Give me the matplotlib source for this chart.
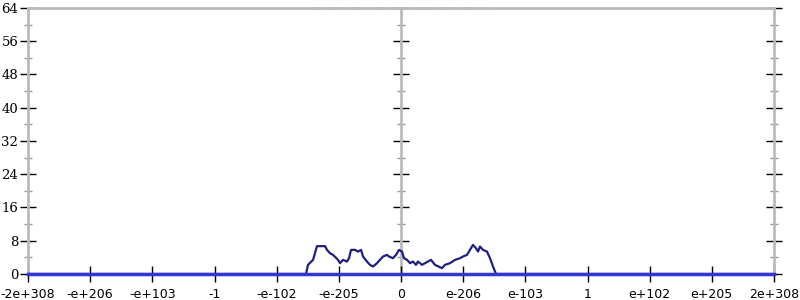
import numpy as np
import matplotlib.pyplot as plt
from matplotlib.ticker import MultipleLocator

# tick positions (evenly spaced on the axis) and their labels
tick_pos = np.arange(-6, 7)
tick_labels = ['-2e+308', '-e+206', '-e+103', '-1', '-e-102', '-e-205', '0',
               'e-206', 'e-103', '1', 'e+102', 'e+205', '2e+308']

# histogram curve (axis units)
curve_x = [-6.0, -1.528, -1.496, -1.415, -1.351, -1.222, -1.190, -1.142, -1.094,
           -1.046, -1.013, -0.981, -0.933, -0.869, -0.836, -0.804, -0.740, -0.692,
           -0.643, -0.611, -0.547, -0.499, -0.450, -0.386, -0.338, -0.290, -0.225,
           -0.193, -0.129, -0.080, -0.032, 0.016, 0.048, 0.097, 0.145, 0.193,
           0.241, 0.273, 0.338, 0.386, 0.434, 0.483, 0.547, 0.659, 0.708, 0.788,
           0.869, 0.949, 0.997, 1.062, 1.110, 1.158, 1.206, 1.239, 1.271, 1.319,
           1.383, 1.432, 1.480, 1.528, 6.0]
curve_y = [0, 0, 2.2, 3.4, 6.7, 6.7, 5.8, 5.0, 4.6,
           3.9, 3.4, 2.6, 3.4, 3.0, 3.8, 5.8, 5.8, 5.4,
           5.8, 4.2, 3.0, 2.2, 1.8, 2.6, 3.4, 4.2, 4.6,
           4.2, 3.8, 4.6, 5.8, 5.4, 3.8, 3.4, 2.6, 3.0,
           2.2, 3.0, 2.2, 2.6, 3.0, 3.4, 2.2, 1.4, 2.2, 2.6,
           3.4, 3.8, 4.2, 4.6, 5.8, 7.0, 6.2, 5.4, 6.6, 5.8,
           5.4, 3.8, 1.8, 0, 0]

# baseline series along zero
base_x = [-6, 6]
base_y = [0, 0]

# faint series clipped at the top
top_x = [-1.41, 1.43]
top_y = [64, 64]

grey = '#bbbbbb'

fig = plt.figure(figsize=(8, 3), dpi=100)
ax = fig.add_axes([0.035, 0.0867, 0.9325, 0.8867])

ax.plot(top_x, top_y, color='#7777dd', lw=2, alpha=0.35, ls=(0, (3, 1.5)), clip_on=False)
ax.plot(curve_x, curve_y, color='#20207f', lw=1.6, zorder=3)
ax.plot(base_x, base_y, color='#3535d5', lw=2.5, zorder=4, clip_on=False)

ax.set_xlim(-6, 6)
ax.set_ylim(0, 64)

for s in ['left', 'right', 'top']:
    ax.spines[s].set_color(grey)
    ax.spines[s].set_linewidth(2)
ax.spines['bottom'].set_visible(False)

ax.set_xticks(tick_pos)
ax.set_xticklabels(tick_labels, fontsize=9, family='DejaVu Sans')
ax.tick_params(axis='x', direction='inout', length=12, width=1, color='black', pad=4)

ax.yaxis.set_major_locator(MultipleLocator(8))
ax.yaxis.set_minor_locator(MultipleLocator(4))
ax.yaxis.set_ticks_position('both')
ax.tick_params(axis='y', which='major', direction='inout', length=12, width=1,
               color='black', pad=1, labelsize=9.5, labelfontfamily='DejaVu Serif',
               labelright=False)
ax.tick_params(axis='y', which='minor', direction='inout', length=6, width=1, color='#999999')

# central axis at zero
sec = ax.secondary_yaxis(0.5)
for s in sec.spines.values():
    s.set_color(grey)
    s.set_linewidth(2)
sec.yaxis.set_major_locator(MultipleLocator(8))
sec.yaxis.set_minor_locator(MultipleLocator(4))
sec.tick_params(axis='y', which='major', direction='inout', length=12, width=1,
                color='black', labelleft=False, labelright=False)
sec.tick_params(axis='y', which='minor', direction='inout', length=6, width=1, color='#999999')

plt.savefig('out.png', dpi=100)
